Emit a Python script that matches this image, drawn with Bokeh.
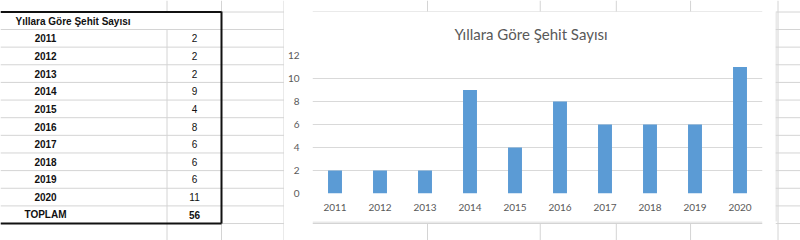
from bokeh.plotting import figure
from bokeh.layouts import row, column
from bokeh.models import Range1d, FactorRange, FixedTicker, ColumnDataSource
from bokeh.core.properties import value
from bokeh.embed import file_html
from bokeh.resources import INLINE

# ---------------- data ----------------
title_text = "Yıllara Göre Şehit Sayısı"
years = ["2011", "2012", "2013", "2014", "2015", "2016", "2017", "2018", "2019", "2020"]
counts = [2, 2, 2, 9, 4, 8, 6, 6, 6, 11]
total_label = "TOPLAM"
total_value = 56
y_ticks = [0, 2, 4, 6, 8, 10, 12]

# ---------------- style ----------------
SHEET = "#d4d4d4"
CHART_FONT = "Lato"
TABLE_FONT = "Liberation Sans"
TXT = "#595959"
BAR = "#5b9bd5"

ROW0 = 29.0
ROWH = 17.64
row_lines = [11.5] + [ROW0 + i * ROWH for i in range(12)]


def deco(w, h):
    f = figure(width=w, height=h, x_range=Range1d(0, w), y_range=Range1d(h, 0),
               toolbar_location=None, output_backend="svg", min_border=0,
               x_axis_location=None, y_axis_location=None)
    f.grid.visible = False
    f.outline_line_color = None
    f.background_fill_color = "white"
    f.border_fill_color = "white"
    return f


# ---------------- left: spreadsheet table ----------------
L = deco(284, 240)
# sheet row lines
L.segment(x0=[0] * len(row_lines), y0=row_lines, x1=[284] * len(row_lines), y1=row_lines,
          line_color=SHEET, line_width=1)
# sheet column lines
L.segment(x0=[166.5, 166.5, 221, 221, 283.5], y0=[0, 29, 0, 223, 0],
          x1=[166.5, 166.5, 221, 221, 283.5], y1=[11, 240, 11, 240, 240],
          line_color=SHEET, line_width=1)
# thick table border
L.segment(x0=[0, 221, 0], y0=[11.5, 11, 223], x1=[221, 221, 221], y1=[11.5, 223, 223],
          line_color="#111111", line_width=2)

labels = years + [total_label]
vals = [str(v) for v in counts] + [str(total_value)]
ys = [ROW0 + (i + 0.5) * ROWH for i in range(len(labels))]
weights = ["normal"] * len(counts) + ["bold"]
src = ColumnDataSource(dict(lab=labels, val=vals, y=ys, w=weights,
                            xl=[45] * len(labels), xv=[194] * len(labels)))
L.text(x="xl", y="y", text="lab", source=src, text_font=value(TABLE_FONT),
       text_font_size="10px", text_font_style="bold", text_align="center",
       text_baseline="middle", text_color="#111111")
L.text(x="xv", y="y", text="val", source=src, text_font=value(TABLE_FONT),
       text_font_size="10px", text_font_style="w", text_align="center",
       text_baseline="middle", text_color="#111111")
L.text(x=[15], y=[20.5], text=[title_text], text_font=value(TABLE_FONT),
       text_font_size="10px", text_font_style="bold", text_align="left",
       text_baseline="middle", text_color="#111111")

# ---------------- middle: chart ----------------
col_x = [125.5, 248.5, 331.5, 412.5]
T = deco(491, 12)
T.segment(x0=[0], y0=[11.5], x1=[491], y1=[11.5], line_color=SHEET)
T.segment(x0=col_x, y0=[0] * 4, x1=col_x, y1=[11] * 4, line_color=SHEET)

p = figure(width=491, height=209, x_range=FactorRange(*years, range_padding=0),
           y_range=Range1d(0, 12), toolbar_location=None, output_backend="svg",
           min_border_left=26, min_border_right=13, min_border_top=43,
           min_border_bottom=28, title=title_text)
p.vbar(x=years, top=counts, width=0.31, fill_color=BAR, line_color=None)
p.title.align = "left"
p.title.vertical_align = "top"
p.title.offset = 142
p.title.standoff = 22
p.title.text_font = CHART_FONT
p.title.text_font_size = "15px"
p.title.text_font_style = "normal"
p.title.text_color = TXT
p.outline_line_color = None
p.background_fill_color = "white"
p.border_fill_color = "white"
p.xgrid.grid_line_color = None
p.ygrid.grid_line_color = "#d9d9d9"
p.yaxis.ticker = FixedTicker(ticks=y_ticks)
for ax in (p.xaxis, p.yaxis):
    ax.axis_line_color = None
    ax.major_tick_line_color = None
    ax.minor_tick_line_color = None
    ax.major_label_text_font = CHART_FONT
    ax.major_label_text_font_size = "10px"
    ax.major_label_text_color = TXT
p.yaxis.major_label_standoff = 7
p.xaxis.major_label_standoff = 4

B = deco(491, 19)
B.segment(x0=[0, 0], y0=[0.5, 2], x1=[491, 491], y1=[0.5, 2], line_color=SHEET)
B.segment(x0=col_x, y0=[2] * 4, x1=col_x, y1=[19] * 4, line_color=SHEET)

# ---------------- right strip ----------------
R = deco(25, 240)
R.segment(x0=[0] * len(row_lines), y0=row_lines, x1=[25] * len(row_lines), y1=row_lines,
          line_color=SHEET)
R.segment(x0=[0.5, 2.5], y0=[12, 0], x1=[0.5, 2.5], y1=[221, 240], line_color=SHEET)

layout = row(L, column(T, p, B, spacing=0), R, spacing=0)
open("out.html", "w").write(file_html(layout, INLINE))
